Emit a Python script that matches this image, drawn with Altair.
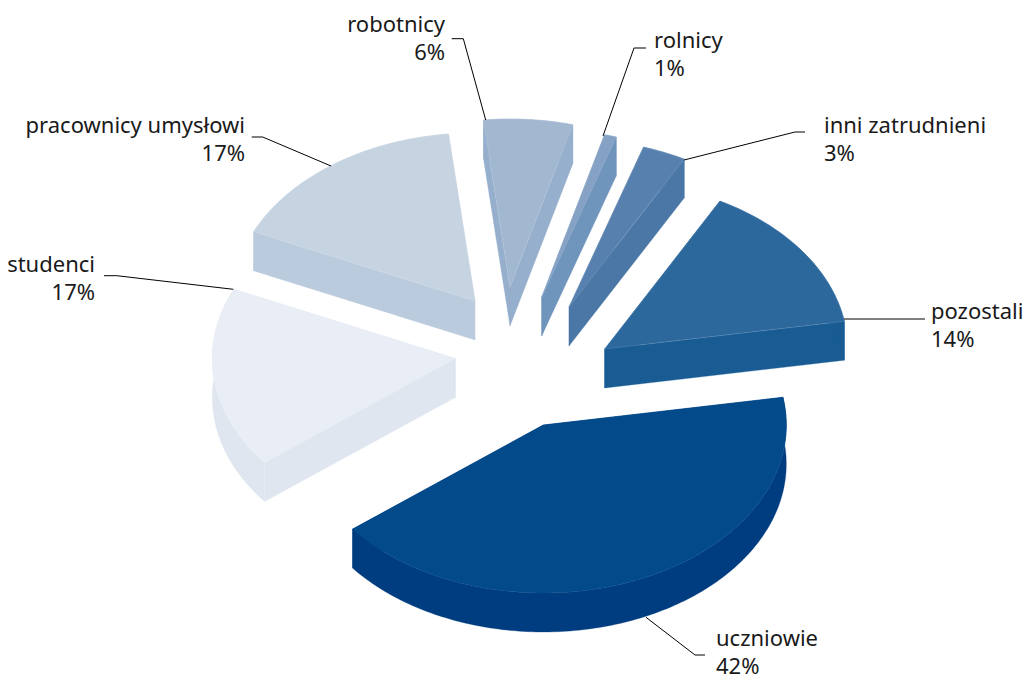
import math
import altair as alt

# --- data ---
names = ["uczniowie", "studenci", "pracownicy umysłowi", "robotnicy", "rolnicy", "inni zatrudnieni", "pozostali"]
labels = ["42%", "17%", "17%", "6%", "1%", "3%", "14%"]
shares = [42.0, 17.4, 16.5, 5.9, 0.8, 2.9, 14.5]

# --- colours ---
top_colors = ["#034A8A", "#E9EDF5", "#C6D3E1", "#A2B7D0", "#85A1C4", "#5780AE", "#2D689D"]
wall_colors = ["#003C80", "#DFE6F0", "#BBCBDE", "#95AFCC", "#6F95BD", "#4A77A6", "#195C94"]
edge_colors = ["#034A8A", "#E9EDF5", "#D0DBE7", "#B4C6DB", "#9CB4D1", "#7F9FC3", "#5F8DB7"]

# --- layout of the exploded pie (page pixels) ---
explode = [(543.3, 425), (455.3, 358.5), (475, 301), (510, 287), (541.7, 297), (569, 307), (604.7, 349)]
RX, RY, DEPTH = 243, 168, 39
START = -9.5

# label layout: text anchor and leader polyline
anchors = {
    "uczniowie": ("left", 716, 646),
    "studenci": ("right", 95, 272),
    "pracownicy umysłowi": ("right", 245, 133),
    "robotnicy": ("right", 445, 32),
    "rolnicy": ("left", 654, 48),
    "inni zatrudnieni": ("left", 824, 133),
    "pozostali": ("left", 931, 319),
}
LINE = 28
leaders = {
    "uczniowie": [(705, 655), (695, 655), (646, 617.3)],
    "studenci": [(104, 275.7), (116.7, 275.7), (233.3, 289.3)],
    "pracownicy umysłowi": [(251.7, 137), (262.7, 137), (331, 166)],
    "robotnicy": [(451.7, 38.7), (463.3, 38.7), (485.7, 120)],
    "rolnicy": [(646, 48), (634, 48), (603, 136)],
    "inni zatrudnieni": [(805, 132), (795, 132), (684, 160)],
    "pozostali": [(925, 319), (844, 319)],
}


def feature(ring, fill, stroke, kind):
    ring = [[round(x, 2), round(y, 2)] for x, y in ring]
    ring.append(ring[0])
    return {
        "type": "Feature",
        "geometry": {"type": "Polygon", "coordinates": [ring]},
        "properties": {"fill": fill, "stroke": stroke, "kind": kind},
    }


walls, tops = [], []
angle = START
for share, (cx, cy), top, wall, edge in zip(shares, explode, top_colors, wall_colors, edge_colors):
    span = share * 3.6
    n = max(4, int(span))
    arc = []
    for i in range(n + 1):
        t = math.radians(angle + span * i / n)
        arc.append((cx + RX * math.cos(t), cy + RY * math.sin(t)))
    low = [(x, y + DEPTH) for x, y in arc]
    apex = (cx, cy)
    apex_low = (cx, cy + DEPTH)
    walls.append(feature([apex, arc[0], low[0], apex_low], wall, wall, "wall"))
    walls.append(feature([apex, arc[-1], low[-1], apex_low], wall, wall, "wall"))
    walls.append(feature(arc + low[::-1], wall, wall, "wall"))
    tops.append(feature([apex] + arc, top, edge, "top"))
    angle += span

proj = alt.Projection(type="identity", scale=1, translate=[-8, -8])

wall_layer = (
    alt.Chart(alt.Data(values=walls))
    .mark_geoshape(strokeWidth=0.3)
    .encode(fill=alt.Fill("properties.fill:N", scale=None), stroke=alt.Stroke("properties.stroke:N", scale=None))
    .project(**proj.to_dict())
)
top_layer = (
    alt.Chart(alt.Data(values=tops))
    .mark_geoshape(strokeWidth=0.5)
    .encode(fill=alt.Fill("properties.fill:N", scale=None), stroke=alt.Stroke("properties.stroke:N", scale=None))
    .project(**proj.to_dict())
)

leader_rows = []
for name, pts in leaders.items():
    for i, (x, y) in enumerate(pts):
        leader_rows.append({"name": name, "i": i, "x": x, "y": y})
leader_layer = (
    alt.Chart(alt.Data(values=leader_rows))
    .mark_line(color="#000000", strokeWidth=1)
    .encode(longitude="x:Q", latitude="y:Q", detail="name:N", order="i:Q")
    .project(**proj.to_dict())
)

text_rows = {"left": [], "right": []}
for name, pct in zip(names, labels):
    align, x, y = anchors[name]
    text_rows[align].append({"t": name, "x": x, "y": y})
    text_rows[align].append({"t": pct, "x": x, "y": y + LINE})


def text_layer(align):
    return (
        alt.Chart(alt.Data(values=text_rows[align]))
        .mark_text(align=align, baseline="alphabetic", font="Noto Sans", fontSize=22, color="#1a1a1a")
        .encode(longitude="x:Q", latitude="y:Q", text="t:N")
        .project(**proj.to_dict())
    )


chart = (
    alt.layer(wall_layer, top_layer, leader_layer, text_layer("left"), text_layer("right"))
    .properties(width=1015, height=671, padding=0, autosize=alt.AutoSizeParams(type="none"))
    .configure_view(stroke=None)
)

chart.save("out.html", embed_options={"renderer": "svg", "actions": False})
